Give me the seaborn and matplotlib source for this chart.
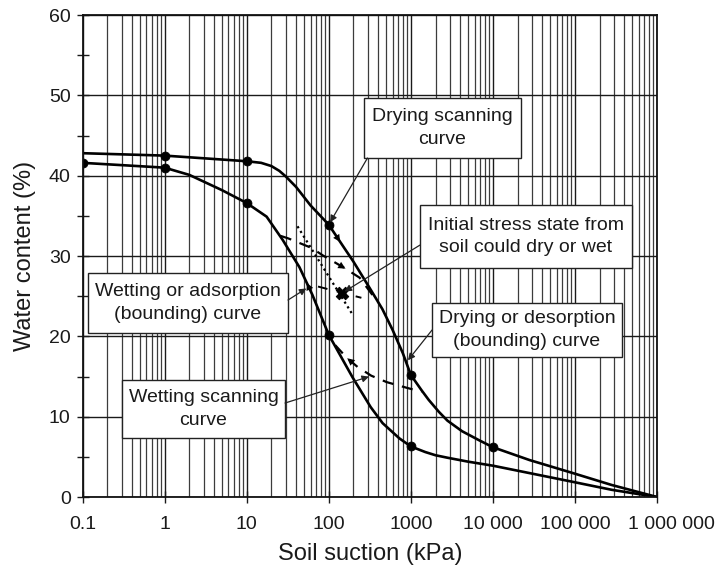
import numpy as np
import pandas as pd
import matplotlib
matplotlib.use("Agg")
import matplotlib.pyplot as plt
import seaborn as sns
from matplotlib.patches import Rectangle
from matplotlib.ticker import FixedLocator, LogLocator, NullFormatter
from matplotlib.transforms import ScaledTranslation

# Drying (desorption) bounding curve
drying_suction = [0.1, 1, 10, 15, 20, 25, 30, 40, 60, 100, 150, 200, 316, 450,
                  600, 800, 1000, 1350, 1650, 2200, 2800, 4200, 6700, 10000, 28000,
                  93000, 280000, 1000000]
drying_water = [42.8, 42.5, 41.8, 41.6, 41.2, 40.6, 39.9, 38.6, 36.3, 33.9, 31.2,
                29.3, 26.0, 23.4, 20.8, 17.9, 15.2, 13.3, 12.1, 10.6, 9.5, 8.2, 7.1,
                6.2, 4.6, 3.0, 1.5, 0.0]

# Wetting (adsorption) bounding curve
wetting_suction = [0.1, 1, 2, 5, 10, 17.5, 27.5, 44, 63, 100, 195, 324, 453, 726,
                   1000, 1500, 2000, 2770, 5000, 10000, 93000, 280000, 1000000]
wetting_water = [41.6, 41.0, 40.1, 38.2, 36.6, 34.9, 32.0, 28.6, 25.2, 20.2, 14.9,
                 11.2, 9.2, 7.3, 6.3, 5.6, 5.2, 4.9, 4.4, 3.9, 1.9, 0.9, 0.0]

# Measured points on each bounding curve
drying_pts_suction = [1, 10, 100, 1000, 10000]
drying_pts_water = [42.5, 41.8, 33.9, 15.2, 6.2]
wetting_pts_suction = [0.1, 1, 10, 100, 1000]
wetting_pts_water = [41.6, 41.0, 36.6, 20.2, 6.3]

# Scanning curves
drying_scan_suction = [26, 32, 62, 84, 156, 238, 400]
drying_scan_water = [32.5, 32.2, 31.0, 30.1, 28.5, 27.3, 24.2]
wetting_scan_suction = [120, 167, 224, 330, 510, 890, 1350]
wetting_scan_water = [18.9, 17.3, 16.2, 15.1, 14.3, 13.6, 13.1]

# Initial stress state and the stress path through it
init_suction = [146]
init_water = [25.4]
path_suction = [41.6, 190]
path_water = [33.7, 22.9]
dry_wet_suction = [74, 250]
dry_wet_water = [26.2, 24.8]

# Axis ticks
x_ticks = [0.1, 1, 10, 100, 1000, 10000, 100000, 1000000]
x_tick_labels = ["0.1", "1", "10", "100", "1000", "10 000", "100 000", "1 000 000"]
y_ticks = [0, 10, 20, 30, 40, 50, 60]
y_minor_ticks = [5, 15, 25, 35, 45, 55]

# Where direction arrows sit along the curves (start, end suction)
drying_arrow = (118, 138)
drying_scan_arrow = (128, 160)
wetting_arrow = (64, 54)
wetting_scan_arrow = (205, 168)

sns.set_theme(style="white")
plt.rcParams["font.family"] = ["Liberation Sans", "DejaVu Sans"]

fig = plt.figure(figsize=(7.22, 5.69), dpi=100)
ax = fig.add_axes([0.1143, 0.1265, 0.7957, 0.8471])
ax.set_xscale("log")
ax.set_xlim(0.1, 1e6)
ax.set_ylim(0, 60)

# grid
ax.xaxis.set_minor_locator(LogLocator(base=10, subs=np.arange(2, 10)))
ax.xaxis.set_minor_formatter(NullFormatter())
ax.grid(which="major", axis="both", color="#1a1a1a", lw=1.0, zorder=0)
ax.grid(which="minor", axis="x", color="#3c3c3c", lw=0.9, zorder=0)
ax.set_axisbelow(True)

line_kw = dict(color="black", estimator=None, sort=False, ax=ax, legend=False)
sns.lineplot(x=drying_suction, y=drying_water, lw=1.9, zorder=3, **line_kw)
sns.lineplot(x=wetting_suction, y=wetting_water, lw=1.9, zorder=3, **line_kw)
sns.lineplot(x=drying_scan_suction, y=drying_scan_water, lw=1.6,
             linestyle=(0, (5, 4)), zorder=3, **line_kw)
sns.lineplot(x=wetting_scan_suction, y=wetting_scan_water, lw=1.6,
             linestyle=(0, (5, 4)), zorder=3, **line_kw)
sns.lineplot(x=dry_wet_suction, y=dry_wet_water, lw=1.4,
             linestyle=(0, (5, 5)), zorder=3, **line_kw)
sns.lineplot(x=path_suction, y=path_water, lw=1.6,
             linestyle=(0, (1, 1.5)), zorder=3, **line_kw)

sns.scatterplot(x=drying_pts_suction + wetting_pts_suction,
                y=drying_pts_water + wetting_pts_water,
                color="black", s=42, edgecolor="black", zorder=4, ax=ax, legend=False)
sns.scatterplot(x=init_suction, y=init_water, marker="X", color="black", s=80,
                edgecolor="black", zorder=4, ax=ax, legend=False)


def on_curve(xs, ys, s):
    order = np.argsort(xs)
    return float(np.interp(np.log10(s), np.log10(np.asarray(xs)[order]),
                           np.asarray(ys)[order]))


def direction_arrow(xs, ys, pair):
    a, b = pair
    ax.annotate("", xy=(b, on_curve(xs, ys, b)), xytext=(a, on_curve(xs, ys, a)),
                arrowprops=dict(arrowstyle="-|>", color="black", lw=0.01,
                                mutation_scale=13, shrinkA=0, shrinkB=0),
                zorder=4)


direction_arrow(drying_suction, drying_water, drying_arrow)
direction_arrow(drying_scan_suction, drying_scan_water, drying_scan_arrow)
direction_arrow(wetting_suction, wetting_water, wetting_arrow)
direction_arrow(wetting_scan_suction, wetting_scan_water, wetting_scan_arrow)

# labelled boxes: (left, bottom, width, height) in axes fraction
boxes = [
    ("Drying scanning\ncurve", (0.4900, 0.7033, 0.2732, 0.1245)),
    ("Initial stress state from\nsoil could dry or wet", (0.5875, 0.4751, 0.3690, 0.1307)),
    ("Wetting or adsorption\n(bounding) curve", (0.0096, 0.3402, 0.3481, 0.1245)),
    ("Drying or desorption\n(bounding) curve", (0.6084, 0.2905, 0.3307, 0.1120)),
    ("Wetting scanning\ncurve", (0.0688, 0.1224, 0.2837, 0.1203)),
]
for text, (x0, y0, w, h) in boxes:
    ax.add_patch(Rectangle((x0, y0), w, h, transform=ax.transAxes, facecolor="white",
                           edgecolor="#222222", lw=1.0, zorder=5))
    ax.text(x0 + w / 2, y0 + h / 2, text, transform=ax.transAxes, ha="center",
            va="center", fontsize=14, linespacing=1.45, color="#1a1a1a", zorder=6)

pointer_kw = dict(arrowstyle="-|>", color="#222222", lw=0.9, mutation_scale=10,
                  shrinkA=0, shrinkB=2)
pointers = [
    ((0.4960, 0.7033), (100, 33.9)),
    ((0.5875, 0.5228), (init_suction[0], init_water[0])),
    ((0.3577, 0.4087), (57, on_curve(wetting_suction, wetting_water, 57))),
    ((0.6084, 0.3465), (880, on_curve(drying_suction, drying_water, 880))),
    ((0.3525, 0.1950), (333, on_curve(wetting_scan_suction, wetting_scan_water, 333))),
]
for start, target in pointers:
    ax.annotate("", xy=target, xycoords="data", xytext=start,
                textcoords="axes fraction", arrowprops=pointer_kw, zorder=6)

# ticks and labels
ax.set_xticks(x_ticks)
ax.set_xticklabels(x_tick_labels)
ax.set_yticks(y_ticks)
ax.yaxis.set_minor_locator(FixedLocator(y_minor_ticks))
ax.tick_params(axis="x", which="major", direction="inout", length=9, width=1.0,
               labelsize=14, pad=9, colors="#1a1a1a", bottom=True)
ax.tick_params(axis="x", which="minor", length=0)
ax.tick_params(axis="y", which="both", direction="inout", length=9, width=1.0,
               labelsize=14, pad=4, colors="#1a1a1a", left=True)
for side in ["left", "bottom", "top", "right"]:
    ax.spines[side].set_color("#111111")
    ax.spines[side].set_linewidth(1.3)
    ax.spines[side].set_zorder(7)

ax.set_xlabel("Soil suction (kPa)", fontsize=17, color="#1a1a1a")
ax.set_ylabel("Water content (%)", fontsize=17, color="#1a1a1a")
ax.xaxis.set_label_coords(0.5, -0.095)
ax.yaxis.set_label_coords(-0.081, 0.5)

# keep the last suction label inside the figure
last = ax.get_xticklabels()[-1]
last.set_transform(last.get_transform() + ScaledTranslation(0.14, 0, fig.dpi_scale_trans))

fig.savefig("out.png", dpi=100)
